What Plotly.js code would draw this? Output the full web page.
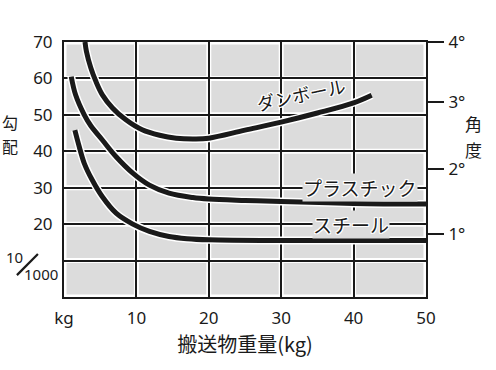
<!DOCTYPE html>
<html>
<head>
<meta charset="utf-8">
<script src="https://cdn.plot.ly/plotly-3.0.1.min.js"></script>
<style>html,body{margin:0;padding:0;background:#fff;}#chart{width:496px;height:370px;}</style>
</head>
<body>
<div id="chart"></div>
<script>
// ---- data ----
const danX = [2.9, 3.1, 3.7, 4.4, 5.3, 6.7, 8.5, 10.8, 13.2, 15.5, 18, 20, 25, 30, 35, 40, 42.5];
const danY = [70, 67.4, 62.9, 59.2, 55.5, 51.9, 48.7, 45.9, 44.4, 43.6, 43.4, 43.6, 45.8, 48, 50.5, 53.3, 55.4];
const plaX = [1.0, 1.6, 2.8, 3.7, 5.3, 7.2, 9.5, 11.8, 14.5, 17.8, 20, 25, 30, 40, 50];
const plaY = [60.5, 55.5, 50, 47, 43.1, 38.5, 34, 30.7, 28.5, 27.3, 26.9, 26.5, 26.2, 25.7, 25.5];
const steX = [1.5, 2.1, 2.8, 3.9, 5.3, 7.2, 9.5, 11.8, 14.5, 17, 20, 30, 40, 50];
const steY = [45.8, 41.3, 36.7, 32.1, 27.5, 23, 20, 18, 16.6, 16, 15.7, 15.5, 15.5, 15.5];
const seriesNames = ["ダンボール", "プラスチック", "スチール"];

const xTickVals = [0, 10, 20, 30, 40, 50];
const xTickText = ["kg", "10", "20", "30", "40", "50"];
const yTickVals = [10, 20, 30, 40, 50, 60, 70];
const yTickText = ["", "20", "30", "40", "50", "60", "70"];
const degTickVals = [17.4, 35.2, 53.5, 70];
const degTickText = ["1°", "2°", "3°", "4°"];

const xTitle = "搬送物重量(kg)";
const yTitleChars = ["勾", "配"];
const y2TitleChars = ["角", "度"];

// ---- styling ----
const FONT = "Noto Sans, Noto Sans CJK JP, sans-serif";
const JP = "Noto Sans CJK JP, Noto Sans, sans-serif";
const INK = "#1a1a1a";
const GRAY = "#dcdcdc";
const halo = "1px 1px 0 #fff, -1px -1px 0 #fff, 1px -1px 0 #fff, -1px 1px 0 #fff, 0 1px 0 #fff, 0 -1px 0 #fff, 1px 0 0 #fff, -1px 0 0 #fff";

function curve(x, y, name) {
  return [
    {x: x, y: y, mode: "lines", type: "scatter", name: name, showlegend: false, hoverinfo: "skip",
     line: {color: "#ffffff", width: 8, shape: "spline", smoothing: 1}},
    {x: x, y: y, mode: "lines", type: "scatter", name: name, showlegend: false,
     line: {color: INK, width: 5, shape: "spline", smoothing: 1}}
  ];
}

const traces = [].concat(
  curve(danX, danY, seriesNames[0]),
  curve(plaX, plaY, seriesNames[1]),
  curve(steX, steY, seriesNames[2]),
  [{x: [0], y: [0], yaxis: "y2", mode: "markers", marker: {opacity: 0}, showlegend: false, hoverinfo: "skip"}]
);

// white halo beside each grid line
const shapes = [];
yTickVals.forEach(v => shapes.push({type: "line", xref: "x", yref: "y", x0: 0, x1: 50, y0: v, y1: v, layer: "below", line: {color: "#fff", width: 5}}));
xTickVals.forEach(v => shapes.push({type: "line", xref: "x", yref: "y", x0: v, x1: v, y0: 0, y1: 70, layer: "below", line: {color: "#fff", width: 5}}));
shapes.push({type: "line", xref: "x", yref: "y", x0: 0, x1: 50, y0: 0, y1: 0, layer: "below", line: {color: "#fff", width: 5}});
// slash of the 10/1000 label
shapes.push({type: "line", xref: "paper", yref: "y", x0: -0.130, x1: -0.072, y0: 6.0, y1: 11.8, line: {color: INK, width: 2.2}});

function vChar(t, x, y, size) {
  return {text: t, xref: "paper", yref: "paper", x: x, y: y, xanchor: "center", yanchor: "middle",
          showarrow: false, font: {family: JP, size: size, color: INK}};
}

const annotations = [
  {text: seriesNames[0], x: 32.7, y: 55.6, xref: "x", yref: "y", showarrow: false, textangle: -12,
   font: {family: JP, size: 18, color: INK, shadow: halo}},
  {text: seriesNames[1], x: 40.9, y: 30, xref: "x", yref: "y", showarrow: false, bgcolor: GRAY, borderpad: 0,
   font: {family: JP, size: 19, color: INK, shadow: halo}},
  {text: seriesNames[2], x: 39.6, y: 20, xref: "x", yref: "y", showarrow: false, bgcolor: GRAY, borderpad: 0,
   font: {family: JP, size: 19, color: INK, shadow: halo}},
  vChar(yTitleChars[0], -0.150, 0.688, 16),
  vChar(yTitleChars[1], -0.150, 0.592, 16),
  vChar(y2TitleChars[0], 1.13, 0.680, 17),
  vChar(y2TitleChars[1], 1.13, 0.580, 17),
  {text: "10", xref: "paper", yref: "y", x: -0.137, y: 10.9, xanchor: "center", yanchor: "middle", showarrow: false,
   font: {family: FONT, size: 15, color: INK}},
  {text: "1000", xref: "paper", yref: "y", x: -0.012, y: 6.2, xanchor: "right", yanchor: "middle", showarrow: false,
   font: {family: FONT, size: 15, color: INK}}
];

const layout = {
  width: 496, height: 370,
  margin: {l: 64, r: 70, t: 42, b: 73, pad: 0},
  paper_bgcolor: "#ffffff",
  plot_bgcolor: GRAY,
  showlegend: false,
  font: {family: FONT, size: 17, color: INK},
  xaxis: {
    range: [0, 50], tickvals: xTickVals, ticktext: xTickText, ticks: "", ticklabelstandoff: 5,
    showgrid: true, gridcolor: INK, gridwidth: 2, zeroline: false,
    showline: true, linecolor: INK, linewidth: 2, mirror: true,
    tickfont: {family: FONT, size: 17, color: INK},
    title: {text: xTitle, font: {family: JP, size: 20, color: INK}, standoff: 4}
  },
  yaxis: {
    range: [0, 70], tickvals: yTickVals, ticktext: yTickText, ticks: "", ticklabelstandoff: 6,
    showgrid: true, gridcolor: INK, gridwidth: 2, zeroline: false,
    showline: true, linecolor: INK, linewidth: 2, mirror: true,
    tickfont: {family: FONT, size: 17, color: INK}
  },
  yaxis2: {
    overlaying: "y", side: "right", range: [0, 70], tickvals: degTickVals, ticktext: degTickText,
    ticks: "outside", ticklen: 17, tickwidth: 2, tickcolor: INK, ticklabelstandoff: 1,
    showgrid: false, zeroline: false, showline: false,
    tickfont: {family: FONT, size: 17, color: INK}
  },
  shapes: shapes,
  annotations: annotations
};

Plotly.newPlot("chart", traces, layout, {displayModeBar: false, staticPlot: true});
</script>
</body>
</html>
